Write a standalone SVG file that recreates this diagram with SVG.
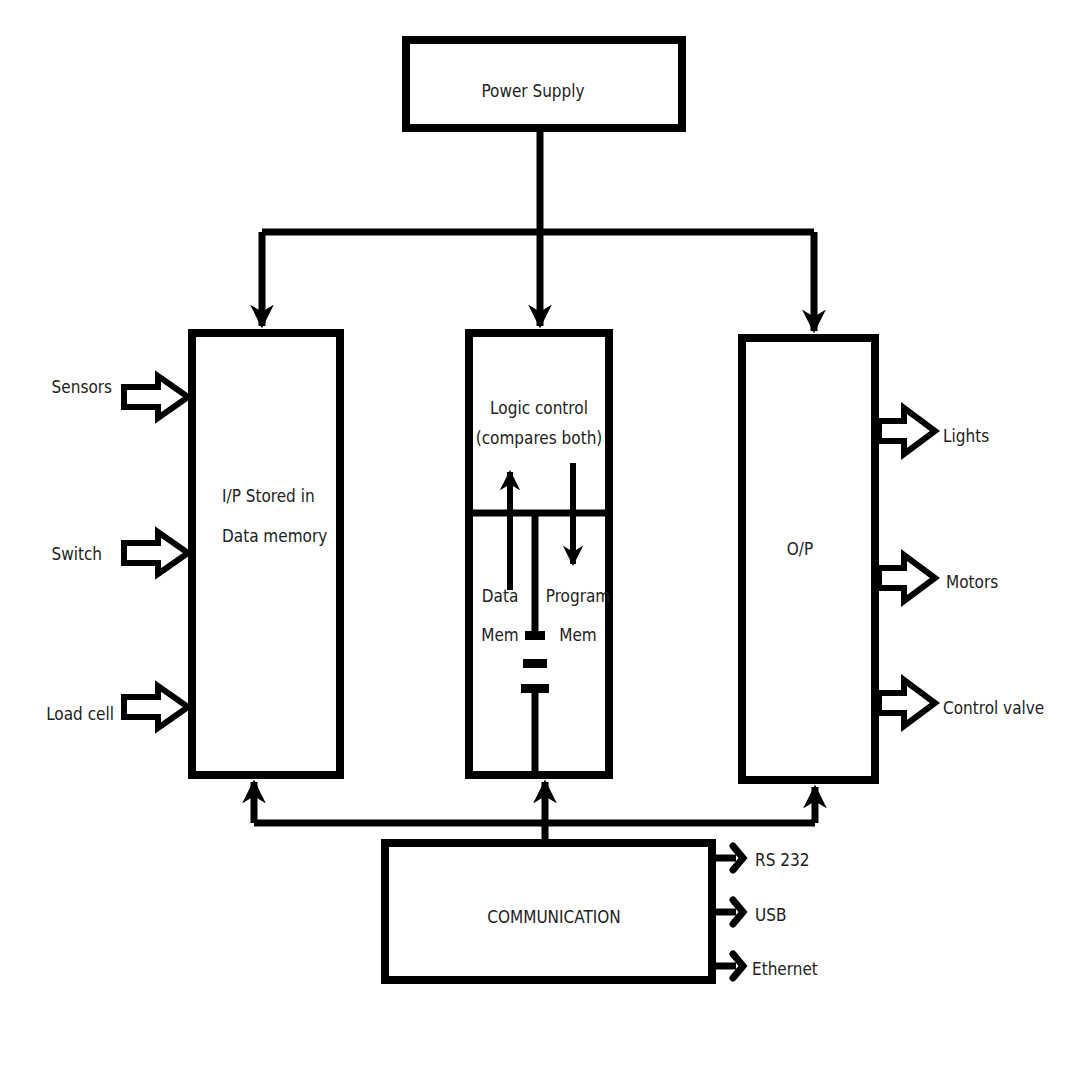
<svg xmlns="http://www.w3.org/2000/svg" width="1065" height="1075" viewBox="0 0 1065 1075">
<defs>
<style>
.b{fill:#fff;stroke:#000;stroke-width:8}
.l{fill:none;stroke:#000;stroke-width:7}
.h{fill:#fff;stroke:#000;stroke-width:6;stroke-linejoin:miter}
.c{fill:none;stroke:#000;stroke-width:7;stroke-linecap:round;stroke-linejoin:miter}
text{font-family:"DejaVu Sans Condensed","Liberation Sans",sans-serif;font-size:17px;fill:#222}
.m{text-anchor:middle}
.e{text-anchor:end}
</style>
<marker id="a" viewBox="0 0 10 10" refX="9" refY="5" markerWidth="3.4" markerHeight="3.4" orient="auto" markerUnits="strokeWidth">
<path d="M0,0 L10,5 L0,10 L3,5 Z" fill="#000"/>
</marker>
</defs>
<rect width="1065" height="1075" fill="#fff"/>
<g id="connectors">
<path class="l" d="M540,128 V232"/>
<path class="l" d="M262,232 H814"/>
<path class="l" d="M262,232 V326" marker-end="url(#a)"/>
<path class="l" d="M540,232 V326" marker-end="url(#a)"/>
<path class="l" d="M814,232 V331" marker-end="url(#a)"/>
<path class="l" d="M254,823 H815"/>
<path class="l" d="M254,823 V782" marker-end="url(#a)"/>
<path class="l" d="M815,823 V787" marker-end="url(#a)"/>
<path class="l" d="M545,843 V782" marker-end="url(#a)"/>
<path class="l" d="M712,858 H736"/><path class="c" d="M733,846 L743,858 L733,870"/>
<path class="l" d="M712,912 H736"/><path class="c" d="M733,900 L743,912 L733,924"/>
<path class="l" d="M712,966 H736"/><path class="c" d="M733,954 L743,966 L733,978"/>
<path class="h" d="M124,387 H158 V376 L188,397 L158,418 V407 H124 Z"/>
<path class="h" d="M124,543 H158 V532 L188,553 L158,574 V563 H124 Z"/>
<path class="h" d="M124,697 H158 V686 L188,707 L158,728 V717 H124 Z"/>
<path class="h" d="M879,421 H904 V408 L935,431 L904,454 V441 H879 Z"/>
<path class="h" d="M879,568 H904 V555 L935,578 L904,601 V588 H879 Z"/>
<path class="h" d="M879,693 H904 V680 L935,703 L904,726 V713 H879 Z"/>
</g>
<g id="power"><rect class="b" x="406" y="40" width="276" height="88"/><text class="m" x="533" y="97">Power Supply</text></g>
<g id="input"><rect class="b" x="192" y="333" width="148" height="442"/><text x="222" y="502">I/P Stored in</text><text x="222" y="542">Data memory</text></g>
<g id="cpu">
<rect class="b" x="469" y="333" width="140" height="442"/>
<path class="l" d="M469,513 H609"/>
<text class="m" x="539" y="414">Logic control</text><text class="m" x="539" y="444">(compares both)</text>
<path class="l" d="M510,590 V472" marker-end="url(#a)" style="stroke-width:6"/>
<path class="l" d="M573,463 V564" marker-end="url(#a)" style="stroke-width:6"/>
<path class="l" d="M535,513 V635"/>
<path d="M525,631 h20 v9 h-20 z M523,659 h24 v9 h-24 z M521,684 h28 v9 h-28 z" fill="#000"/>
<path class="l" d="M535,690 V775"/>
<text class="m" x="500" y="602">Data</text><text class="m" x="500" y="641">Mem</text>
<text class="m" x="578" y="602">Program</text><text class="m" x="578" y="641">Mem</text>
</g>
<g id="output"><rect class="b" x="742" y="338" width="133" height="442"/><text class="m" x="800" y="555">O/P</text></g>
<g id="comm"><rect class="b" x="385" y="843" width="327" height="137"/><text class="m" x="554" y="923">COMMUNICATION</text></g>
<g id="labels">
<text class="e" x="112" y="393">Sensors</text><text class="e" x="102" y="560">Switch</text><text class="e" x="114" y="720">Load cell</text>
<text x="943" y="442">Lights</text><text x="946" y="588">Motors</text><text x="943" y="714">Control valve</text>
<text x="755" y="866">RS 232</text><text x="755" y="921">USB</text><text x="752" y="975">Ethernet</text>
</g>
</svg>
